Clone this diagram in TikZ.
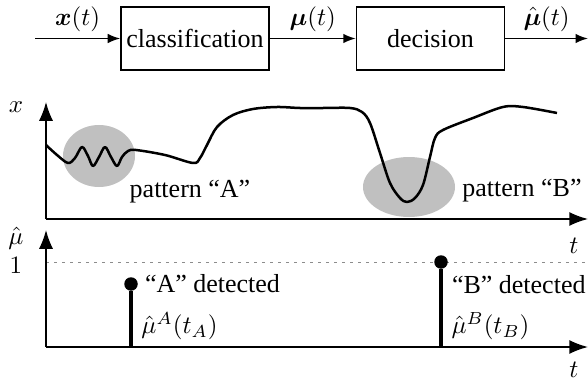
\documentclass[tikz,border=0pt]{standalone}
\usepackage{amsmath}
\usepackage{bm}
\usepackage{fontspec}
\setmainfont{Liberation Serif}
\usetikzlibrary{arrows.meta,positioning}
\definecolor{blobgray}{HTML}{C0C0C0}
\definecolor{threshgray}{HTML}{8C8C8C}
\tikzset{
  block/.style={draw,line width=0.6pt,minimum width=59.2pt,minimum height=25.2pt,inner sep=2pt},
  sig/.style={-{Latex[length=5pt,width=3.8pt]},line width=0.6pt},
  siglbl/.style={inner sep=1pt,yshift=1.5pt},
  axis/.style={-{Latex[length=7.5pt,width=5.6pt]},line width=0.6pt},
  blob/.style={fill=blobgray,draw=none},
  signal/.style={line width=1pt,line join=round},
  thresh/.style={draw=threshgray,line width=0.4pt,dash pattern=on 1.2pt off 2pt},
  stem/.style={line width=1.3pt},
  dot/.style={circle,fill,inner sep=0pt,minimum size=5.4pt},
  lbl/.style={inner sep=1pt},
}

\begin{document}
\begin{tikzpicture}[x=0.4pt,y=-0.4pt,node distance=34.4pt,font=\fontsize{10.4}{12.5}\selectfont]
  \useasboundingbox (0,0) rectangle (588,380);
  % block diagram
  \node[block] (cls) at (195,38.5) {classification};
  \node[block,right=of cls] (dec) {decision};
  \coordinate (in) at (35,38.5);
  \coordinate (out) at (588,38.5);
  \draw[sig] (in) -- node[siglbl,above]{$\bm{x}(t)$} (cls);
  \draw[sig] (cls) -- node[siglbl,above]{$\bm{\mu}(t)$} (dec);
  \draw[sig] (dec) -- node[siglbl,above]{$\hat{\bm{\mu}}(t)$} (out);
  % input signal
  \coordinate (o1) at (46,219);
  \coordinate (y1) at (46,102);
  \coordinate (t1) at (588,219);
  \fill[blob] (99,156) ellipse [x radius=14.4pt,y radius=12.4pt];
  \fill[blob] (409,187) ellipse [x radius=18.4pt,y radius=12pt];
  \draw[axis] (o1) -- (y1);
  \draw[axis] (o1) -- (t1);
  \draw[signal] plot[smooth,tension=0.55] coordinates {
    (46,145) (57,155) (68,163) (75,158) (82,147) (88,156) (93,166)
    (99,157) (105,147) (111,157) (117,166) (122,157) (128,151) (136,150)
    (165,155) (193,163) (200,158) (207,145) (217,127) (233,115) (253,109)
    (277,107) (300,108) (323,108) (350,108) (362,112) (370,123) (380,153)
    (390,183) (400,198) (407,202) (415,198) (423,185) (430,157) (435,138)
    (443,130) (473,118) (503,107) (523,107) (557,113)};
  \node (xlbl) at (16,107) {$x$};
  \node (t1lbl) at (574,246) {$t$};
  \node (patA) at (190,192) {pattern ``A''};
  \node (patB) at (522,191) {pattern ``B''};
  % detector output
  \coordinate (o2) at (46,347);
  \coordinate (y2) at (46,230);
  \coordinate (t2) at (588,347);
  \coordinate (one) at (46,262);
  \coordinate (oneend) at (588,262);
  \draw[thresh] (one) -- (oneend);
  \draw[axis] (o2) -- (y2);
  \draw[axis] (o2) -- (t2);
  \node (mulbl) at (16,238) {$\hat{\mu}$};
  \node (onelbl) at (16,265) {$1$};
  \node (t2lbl) at (574,370) {$t$};
  \coordinate (tA) at (131,347);
  \coordinate (tB) at (441,347);
  \node[dot] (dA) at (131,284) {};
  \node[dot] (dB) at (441,262) {};
  \draw[stem] (tA) -- (dA);
  \draw[stem] (tB) -- (dB);
  \node[lbl,right=1.5pt of dA] (detA) {``A'' detected};
  \node[lbl,anchor=west] (detB) at (449,285) {``B'' detected};
  \node[lbl,above right=1.5pt and 3pt of tA] (muA) {$\hat{\mu}^A(t_A)$};
  \node[lbl,above right=1.5pt and 3pt of tB] (muB) {$\hat{\mu}^B(t_B)$};
\end{tikzpicture}
\end{document}
